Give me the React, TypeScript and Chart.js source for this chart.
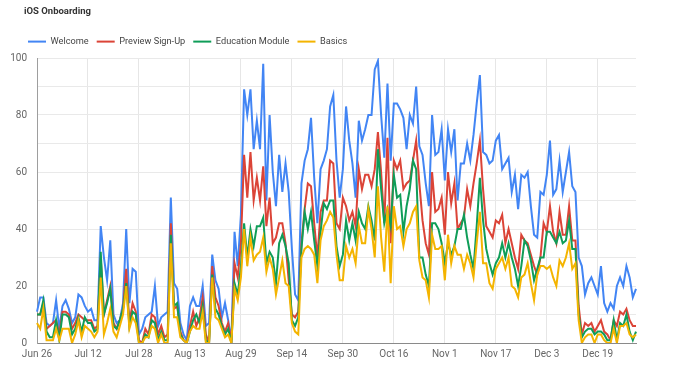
import React, { useEffect, useRef } from "react";
import { Chart, registerables } from "chart.js";

Chart.register(...registerables);

// Tick labels shown on the x axis (every 16th day)
const tickLabels = ["Jun 26", "Jul 12", "Jul 28", "Aug 13", "Aug 29", "Sep 14", "Sep 30", "Oct 16", "Nov 1", "Nov 17", "Dec 3", "Dec 19"];

const welcome = [
  11, 16, 16, 7, 6, 7, 15, 5, 13, 15,
  12, 7, 9, 17, 16, 13, 11, 12, 8, 8,
  41, 30, 22, 36, 10, 7, 8, 14, 40, 14,
  26, 25, 3, 5, 9, 10, 11, 20, 6, 9,
  10, 11, 51, 21, 19, 7, 3, 1, 13, 16,
  13, 13, 20, 6, 7, 31, 22, 19, 9, 14,
  8, 1, 39, 27, 45, 89, 80, 89, 68, 78,
  68, 98, 50, 80, 60, 48, 66, 53, 63, 53,
  33, 17, 15, 56, 64, 68, 79, 58, 42, 61,
  64, 68, 83, 87, 64, 51, 61, 83, 71, 63,
  51, 78, 71, 75, 80, 80, 96, 99, 80, 65,
  91, 64, 84, 84, 82, 79, 68, 80, 77, 90,
  69, 66, 56, 48, 80, 66, 67, 75, 57, 75,
  67, 75, 50, 63, 63, 70, 64, 73, 84, 94,
  67, 66, 63, 64, 71, 73, 61, 63, 65, 53,
  59, 47, 59, 58, 60, 48, 38, 37, 53, 52,
  59, 71, 52, 54, 64, 53, 60, 67, 55, 53,
  30, 27, 17, 21, 23, 20, 17, 27, 14, 11,
  14, 12, 20, 23, 20, 27, 23, 16, 19,
];

const previewSignUp = [
  10, 10, 14, 5, 6, 7, 8, 3, 11, 11,
  10, 5, 7, 10, 9, 8, 8, 8, 5, 6,
  30, 10, 15, 20, 7, 5, 8, 12, 26, 7,
  14, 11, 1, 0, 5, 3, 10, 9, 3, 6,
  2, 3, 42, 12, 13, 4, 1, 0, 6, 11,
  6, 9, 16, 3, 0, 27, 16, 13, 7, 4,
  7, 0, 28, 23, 35, 66, 51, 67, 50, 58,
  50, 62, 41, 51, 35, 37, 42, 42, 35, 22,
  10, 9, 11, 35, 47, 56, 55, 42, 30, 46,
  50, 50, 64, 63, 42, 40, 51, 48, 43, 46,
  41, 61, 54, 59, 59, 55, 61, 74, 60, 42,
  72, 35, 64, 61, 64, 54, 56, 57, 64, 71,
  56, 43, 35, 31, 60, 46, 47, 51, 38, 60,
  49, 56, 40, 42, 44, 54, 48, 56, 63, 71,
  54, 41, 39, 37, 43, 42, 45, 35, 40, 35,
  30, 26, 38, 36, 35, 31, 27, 24, 30, 42,
  39, 48, 39, 35, 46, 38, 38, 48, 36, 36,
  13, 3, 7, 6, 7, 4, 6, 8, 4, 3,
  1, 8, 6, 11, 10, 12, 8, 6, 6,
];

const educationModule = [
  10, 10, 15, 4, 2, 2, 8, 1, 10, 10,
  9, 3, 5, 9, 4, 9, 7, 7, 4, 5,
  32, 10, 14, 19, 6, 5, 8, 12, 21, 6,
  11, 10, 0, 0, 3, 2, 8, 7, 1, 4,
  1, 1, 38, 13, 14, 3, 1, 0, 4, 8,
  10, 7, 13, 1, 0, 24, 12, 10, 6, 3,
  5, 0, 21, 17, 27, 42, 30, 40, 34, 41,
  41, 44, 28, 32, 30, 21, 35, 38, 34, 28,
  8, 6, 9, 33, 46, 40, 46, 36, 27, 39,
  49, 47, 50, 50, 34, 27, 31, 43, 36, 42,
  36, 46, 42, 40, 48, 43, 36, 68, 54, 42,
  47, 41, 59, 51, 52, 39, 48, 54, 64, 61,
  30, 30, 24, 20, 42, 42, 40, 35, 28, 35,
  31, 34, 40, 40, 45, 37, 31, 26, 41, 58,
  43, 33, 28, 24, 28, 30, 35, 30, 35, 30,
  26, 20, 27, 36, 34, 29, 22, 26, 30, 30,
  39, 39, 37, 35, 39, 35, 36, 43, 33, 33,
  10, 2, 4, 5, 5, 3, 4, 4, 3, 1,
  1, 8, 1, 7, 6, 10, 4, 1, 4,
];

const basics = [
  7, 5, 12, 1, 1, 1, 5, 1, 5, 5,
  5, 0, 3, 8, 2, 6, 5, 4, 2, 4,
  23, 3, 7, 12, 4, 2, 6, 10, 20, 5,
  9, 7, 0, 0, 2, 2, 6, 5, 0, 3,
  0, 0, 35, 9, 9, 2, 1, 0, 4, 6,
  5, 5, 11, 0, 0, 23, 9, 8, 5, 2,
  3, 0, 19, 15, 23, 40, 27, 37, 29, 31,
  32, 37, 25, 30, 26, 17, 23, 29, 21, 20,
  7, 4, 3, 30, 33, 34, 33, 31, 21, 36,
  41, 43, 46, 44, 31, 22, 22, 34, 30, 33,
  28, 41, 35, 35, 47, 40, 30, 55, 37, 25,
  48, 21, 48, 40, 41, 34, 40, 42, 46, 48,
  29, 23, 22, 16, 38, 33, 33, 34, 22, 38,
  28, 34, 31, 31, 26, 31, 28, 23, 35, 46,
  28, 28, 21, 19, 26, 28, 30, 26, 30, 20,
  19, 16, 23, 24, 28, 21, 15, 24, 27, 27,
  26, 27, 23, 20, 29, 27, 30, 35, 26, 28,
  8, 0, 2, 3, 3, 0, 3, 3, 1, 0,
  0, 5, 0, 6, 6, 7, 3, 2, 3,
];

const MONTHS = ["Jan", "Feb", "Mar", "Apr", "May", "Jun", "Jul", "Aug", "Sep", "Oct", "Nov", "Dec"];
const categories = welcome.map((_, i) => {
  const d = new Date(2017, 5, 26 + i);
  return `${MONTHS[d.getMonth()]} ${d.getDate()}`;
});

const FONT = "Roboto, Arial, sans-serif";

export default function App() {
  const canvasRef = useRef<HTMLCanvasElement | null>(null);

  useEffect(() => {
    document.body.style.margin = "0";
    const canvas = canvasRef.current;
    if (!canvas) return;

    const legendTweak = {
      id: "legendTweak",
      beforeInit(chart: any) {
        const legend = chart.legend;
        const origFit = legend.fit;
        legend.fit = function () {
          origFit.call(this);
          this.height = 29;
        };
        const origDraw = legend.draw;
        legend.draw = function () {
          const ctx = this.ctx;
          ctx.save();
          ctx.translate(12, 0);
          origDraw.call(this);
          ctx.restore();
        };
      },
    };

    const mk = (label: string, data: number[], color: string, order: number) => ({
      label,
      data,
      borderColor: color,
      backgroundColor: color,
      borderWidth: 2,
      pointRadius: 0,
      pointHoverRadius: 0,
      fill: false,
      tension: 0,
      order,
    });

    const chart = new Chart(canvas, {
      type: "line",
      data: {
        labels: categories,
        datasets: [
          mk("Welcome", welcome, "#4285F4", 4),
          mk("Preview Sign-Up", previewSignUp, "#DB4437", 3),
          mk("Education Module", educationModule, "#0F9D58", 2),
          mk("Basics", basics, "#F4B400", 1),
        ],
      },
      options: {
        animation: false,
        responsive: false,
        maintainAspectRatio: false,
        layout: { padding: { left: 8, right: 40, top: 29, bottom: 18 } },
        plugins: {
          title: { display: false },
          tooltip: { enabled: false },
          legend: {
            position: "top",
            align: "start",
            labels: {
              usePointStyle: true,
              pointStyle: "line",
              pointStyleWidth: 18,
              padding: 8,
              color: "#444",
              font: { family: FONT, size: 9.2 },
              sort: (a: any, b: any) => a.datasetIndex - b.datasetIndex,
            },
          },
        },
        scales: {
          x: {
            type: "category",
            offset: false,
            grid: {
              drawTicks: false,
              color: (ctx: any) => (ctx.index % 16 === 0 ? "#e6e6e6" : "rgba(0,0,0,0)"),
            },
            border: { color: "#8a8a8a", width: 1 },
            ticks: {
              autoSkip: false,
              maxRotation: 0,
              minRotation: 0,
              padding: 5,
              color: "#666",
              font: { family: FONT, size: 10 },
              callback: (_v: any, index: number) =>
                index % 16 === 0 ? tickLabels[index / 16] ?? "" : "",
            },
          },
          y: {
            min: 0,
            max: 100,
            afterFit: (s: any) => {
              s.width = 29;
            },
            grid: { drawTicks: false, color: "#e9e9e9" },
            border: { color: "#9e9e9e", width: 1 },
            ticks: {
              stepSize: 10,
              padding: 10,
              color: "#666",
              font: { family: FONT, size: 10 },
              callback: (v: any) => (Number(v) % 20 === 0 ? String(v) : ""),
            },
          },
        },
      },
      plugins: [legendTweak],
    } as any);

    return () => chart.destroy();
  }, []);

  return (
    <div style={{ position: "fixed", left: 0, top: 0, width: 676, height: 383, background: "#fff" }}>
      <div
        style={{
          position: "absolute",
          left: 24,
          top: 3,
          fontFamily: FONT,
          fontWeight: "bold",
          fontSize: 9.5,
          color: "#333",
          lineHeight: "16px",
        }}
      >
        iOS Onboarding
      </div>
      <canvas ref={canvasRef} width={676} height={383} style={{ display: "block" }} />
    </div>
  );
}
